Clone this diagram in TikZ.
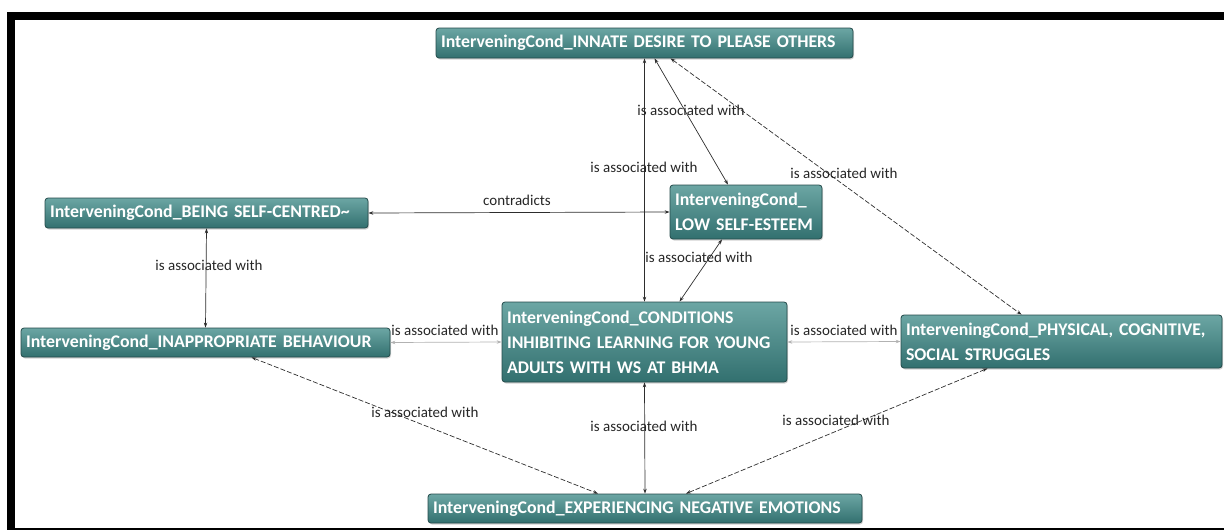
\documentclass[tikz,border=0pt]{standalone}
\usepackage{fontspec}
\setmainfont{Carlito}
\usetikzlibrary{arrows.meta,shadows}
\definecolor{tealtop}{RGB}{108,166,164}
\definecolor{tealbot}{RGB}{50,112,111}
\definecolor{tealedge}{RGB}{36,74,74}
\definecolor{linkgray}{RGB}{45,45,45}
\tikzset{
  cond/.style={draw=tealedge, line width=0.8pt, rounded corners=3pt,
    top color=tealtop, bottom color=tealbot, text=white,
    font=\bfseries\fontsize{17.8}{25}\selectfont, align=left,
    inner xsep=5pt, inner ysep=0pt,
    drop shadow={opacity=0.35, shadow xshift=1pt, shadow yshift=-1.5pt}},
  rel/.style={draw=linkgray, line width=0.7pt,
    {Stealth[length=5pt,width=3.5pt]}-{Stealth[length=5pt,width=3.5pt]}},
  reldash/.style={rel, dash pattern=on 5pt off 2pt},
  rellight/.style={rel, draw=gray!60},
  tag/.style={font=\fontsize{15}{15}\selectfont, text=black!85, inner sep=0pt},
}
\begin{document}
\begin{tikzpicture}[x=1pt,y=-1pt]
\useasboundingbox (0,0) rectangle (1224,530);
% frame
\fill[black] (7,12) rectangle (1224,20);
\fill[black] (7,12) rectangle (15,530);
\fill[black] (7,528) rectangle (1224,530);

% conditions
\node[cond, minimum width=417pt, minimum height=30pt, text width=407pt] (innate) at (644.5,43)
  {\mbox{InterveningCond\_INNATE DESIRE TO PLEASE OTHERS}};
\node[cond, minimum width=323pt, minimum height=30pt, text width=313pt] (being) at (206.5,213)
  {\mbox{InterveningCond\_BEING SELF-CENTRED\textasciitilde}};
\node[cond, minimum width=152pt, minimum height=54pt, text width=142pt] (low) at (746,212)
  {\mbox{InterveningCond\_}\\\mbox{LOW SELF-ESTEEM}};
\node[cond, minimum width=369pt, minimum height=29pt, text width=359pt] (inapp) at (205.5,342.5)
  {\mbox{InterveningCond\_INAPPROPRIATE BEHAVIOUR}};
\node[cond, minimum width=285pt, minimum height=80pt, text width=275pt] (core) at (644.5,342)
  {\mbox{InterveningCond\_CONDITIONS}\\\mbox{INHIBITING LEARNING FOR YOUNG}\\\mbox{ADULTS WITH WS AT BHMA}};
\node[cond, minimum width=321pt, minimum height=53pt, text width=311pt] (phys) at (1061.5,341.5)
  {\mbox{InterveningCond\_PHYSICAL, COGNITIVE,}\\\mbox{SOCIAL STRUGGLES}};
\node[cond, minimum width=434pt, minimum height=29pt, text width=424pt] (neg) at (645,508.5)
  {\mbox{InterveningCond\_EXPERIENCING NEGATIVE EMOTIONS}};

% relations
\draw[rel] (innate.south) -- (core.north);
\draw[rel] ([xshift=10pt]innate.south) -- ([xshift=-18pt]low.north);
\draw[reldash] ([xshift=26pt]innate.south) -- ([xshift=-40pt]phys.north);
\draw[rel] (being.east) -- (low.west);
\draw[rel] (being.south) -- (inapp.north);
\draw[rel] ([xshift=-24pt]low.south) -- ([xshift=35pt]core.north);
\draw[rellight] (inapp.east) -- (core.west);
\draw[rellight] (core.east) -- (phys.west);
\draw[rel] (core.south) -- (neg.north);
\draw[reldash] ([xshift=46pt]inapp.south) -- ([xshift=-47pt]neg.north);
\draw[reldash] ([xshift=-74pt]phys.south) -- ([xshift=41pt]neg.north);

% relation labels
\node[tag] (t1) at (644,167) {is associated with};
\node[tag] (t2) at (691,110) {is associated with};
\node[tag] (t3) at (844,173) {is associated with};
\node[tag] (t4) at (517,200) {contradicts};
\node[tag] (t5) at (209,265) {is associated with};
\node[tag] (t6) at (699,257) {is associated with};
\node[tag] (t7) at (445,330) {is associated with};
\node[tag] (t8) at (844,330) {is associated with};
\node[tag] (t9) at (644,426) {is associated with};
\node[tag] (t10) at (425,412) {is associated with};
\node[tag] (t11) at (836,420) {is associated with};
\end{tikzpicture}
\end{document}
